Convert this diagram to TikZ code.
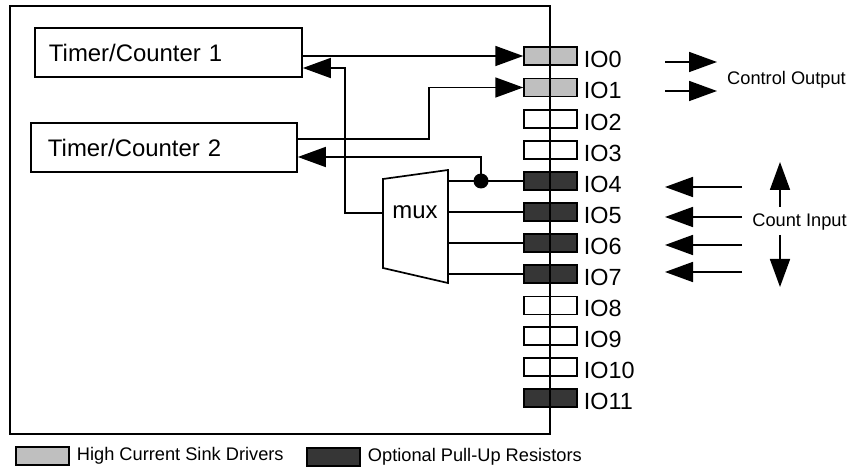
\documentclass[tikz,border=0pt]{standalone}
\usepackage{fontspec}
\setmainfont{Liberation Sans}
\usetikzlibrary{arrows.meta, calc}
\definecolor{pinGray}{HTML}{BFBFBF}
\definecolor{pinDark}{HTML}{363636}

\begin{document}
\begin{tikzpicture}[x=1bp, y=-1bp,
			frame/.style={draw, line width=1.7bp, inner sep=0pt},
			block/.style={
				draw, line width=1.7bp, align=left, inner ysep=0pt,
				minimum height=49bp, font=\fontsize{24}{28}\selectfont
			},
			pin/.style={
				draw, line width=1.5bp, inner sep=0pt,
				minimum width=53bp, minimum height=18bp
			},
			pinlabel/.style={anchor=west, inner sep=0pt, font=\fontsize{23.5}{26}\selectfont},
			note/.style={inner sep=0pt, font=\fontsize{18.3}{22}\selectfont},
			wire/.style={line width=1.7bp},
			arrow/.style={-{Triangle[length=28bp, width=20bp]}, line width=1.7bp}
			]
			
			\useasboundingbox (0,0) rectangle (851,470);
			
			\node[block, text width=239bp, inner xsep=14bp] (tc1) at (168.5, 52.5)
			{Timer/Counter 1};
			\node[block, text width=232bp, inner xsep=17bp] (tc2) at (164, 147.5)
			{Timer/Counter 2};
			
			% pins on the right edge
			\foreach \i/\y/\c in {0/56/pinGray, 1/87.5/pinGray, 2/119/white, 3/150/white,
				4/181/pinDark, 5/212/pinDark, 6/243/pinDark, 7/274/pinDark,
				8/305.5/white, 9/336/white, 10/367/white, 11/398/pinDark}
			{
				\node[pin, fill=\c] (io\i) at (550.5, \y) {};
				\node[pinlabel] (io\i-lab) at ([xshift=6bp, yshift=-3bp]io\i.east) {IO\i};
			}
			
			\node[frame, minimum width=540bp, minimum height=428bp] (chip) at (280, 220) {};
			
			% mux
			\coordinate (mux-tl) at (383, 179);
			\coordinate (mux-bl) at (383, 268);
			\coordinate (mux-tr) at (448, 170);
			\coordinate (mux-br) at (448, 283);
			\coordinate (mux-in) at (383, 213);
			\draw[wire, fill=white] (mux-tl) -- (mux-tr) -- (mux-br) -- (mux-bl) -- cycle;
			\node[font=\fontsize{24}{28}\selectfont] (mux) at (415, 212) {mux};
			
			\coordinate (tap1) at (345, 68);
			\coordinate (tap2) at (429, 139);
			\coordinate (tap3) at (481, 157);
			
			\draw[arrow] (tc1.east |- io0.west) -- (io0.west);
			\draw[arrow] (mux-in) -| (tap1) -- (tap1 -| tc1.east);
			\draw[arrow] (tc2.east |- tap2) -- (tap2) |- (io1.west);
			\draw[wire] (mux-tr |- io4.west) -- (io4.west);
			\fill (tap3 |- io4.west) circle[radius=7.5bp];
			\draw[arrow] (tap3 |- io4.west) -- (tap3) -- (tap3 -| tc2.east);
			\foreach \i in {5,6,7}
			\draw[wire] (mux-tr |- io\i.west) -- (io\i.west);
			
			% outside notes
			\node[note] (ctrl) at (786.5, 80) {Control Output};
			\coordinate (co-a) at (665, 62);
			\coordinate (co-b) at (665, 91);
			\draw[arrow] (co-a) -- ++(52, 0);
			\draw[arrow] (co-b) -- ++(52, 0);
			
			\node[note] (cnt) at (799.5, 222) {Count Input};
			\foreach \y in {187, 217, 245, 272}
			{
				\coordinate (ci-\y) at (742, \y);
				\draw[arrow] (ci-\y) -- ++(-77, 0);
			}
			\coordinate (ci-up) at (780, 207);
			\coordinate (ci-dn) at (780, 235);
			\draw[arrow] (ci-up) -- ++(0, -45);
			\draw[arrow] (ci-dn) -- ++(0, 52);
			
			% legend
			\node[pin, fill=pinGray] (key1) at (42.5, 456) {};
			\node[note, anchor=west] (key1-text) at ([xshift=7bp]key1.east) {High Current Sink Drivers};
			\node[pin, fill=pinDark] (key2) at (333.5, 457) {};
			\node[note, anchor=west] (key2-text) at ([xshift=7bp]key2.east) {Optional Pull-Up Resistors};
			
		\end{tikzpicture}
\end{document}
